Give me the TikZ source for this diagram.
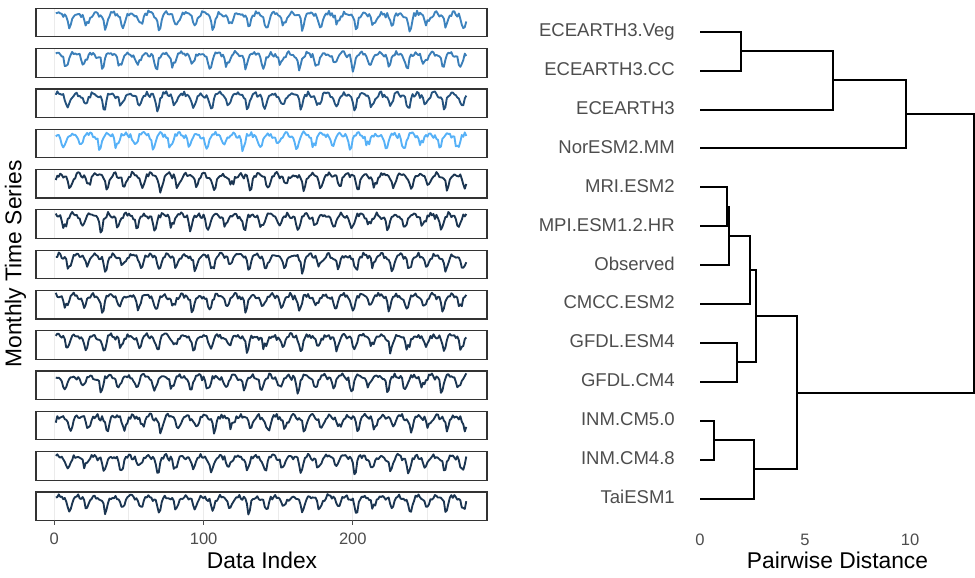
\documentclass[tikz,border=0pt]{standalone}
\usepackage{fontspec}
\setmainfont{Liberation Sans}
\usepackage{tikz}
\usetikzlibrary{positioning}
\definecolor{axisgray}{RGB}{77, 77, 77}
\definecolor{tsA}{RGB}{61, 131, 190}
\definecolor{tsB}{RGB}{58, 126, 184}
\definecolor{tsC}{RGB}{36, 82, 126}
\definecolor{tsD}{RGB}{86, 177, 247}
\definecolor{tsE}{RGB}{27, 53, 81}
\tikzstyle{panel} = [draw=black!80, line width=0.9pt]
\tikzstyle{vgrid} = [draw=black!8, line width=0.8pt]
\tikzstyle{series} = [line width=1.4pt, line join=round]
\tikzstyle{branch} = [draw, line width=1.5pt]
\tikzstyle{tickmark} = [draw=axisgray, line width=0.8pt]
\tikzstyle{leaf} = [inner sep=0pt, text=axisgray, font=\fontsize{13.9}{16}\selectfont, text height=1.4ex, text depth=0pt]
\tikzstyle{ticklab} = [inner sep=0pt, text=axisgray, font=\fontsize{12.4}{14}\selectfont, text height=1.4ex, text depth=0pt]
\tikzstyle{axtitle} = [inner sep=0pt, font=\fontsize{17.1}{20}\selectfont, text height=1.4ex, text depth=0pt]

% one panel: #1 top, #2 colour, #3 seed, #4 phase
\newcommand{\tspanel}[4]{%
  \foreach \g in {0,50,...,250}
    \draw[vgrid] ({54.3+1.4927*\g},#1) -- ({54.3+1.4927*\g},#1+28.5);
  \pgfmathsetseed{#3}
  \draw[series, #2] plot[domain=1:276, samples=276]
    ({54.3+1.4927*\x}, {#1+3.5+10*(0.3+(1.3+0.4*sin(131*floor((\x+#4)/12)+#3))*(max(0,cos(30*(\x+#4))))^2+0.3*(sin(30*(\x+#4)+20))^2-0.45*rnd)});
  \draw[panel] (36,#1) rectangle (487,#1+28.5);
}

\begin{document}
\begin{tikzpicture}[x=0.75pt, y=-0.75pt]
\useasboundingbox (0,0) rectangle (975,578);

% time series panels =============================
\tspanel{8.3}{tsA}{11}{2}
\tspanel{48.6}{tsB}{23}{4}
\tspanel{88.9}{tsC}{37}{3}
\tspanel{129.2}{tsD}{41}{6}
\tspanel{169.5}{tsE}{53}{1}
\tspanel{209.8}{tsE}{67}{5}
\tspanel{250.1}{tsE}{71}{2}
\tspanel{290.4}{tsE}{83}{4}
\tspanel{330.7}{tsE}{97}{3}
\tspanel{371.0}{tsE}{59}{5}
\tspanel{411.3}{tsE}{17}{1}
\tspanel{451.6}{tsE}{29}{3}
\tspanel{491.9}{tsE}{43}{2}

% x axis of panels
\draw[tickmark] (54.3,520.4) -- (54.3,525);
\draw[tickmark] (203.6,520.4) -- (203.6,525);
\draw[tickmark] (352.8,520.4) -- (352.8,525);
\node[ticklab] (t0) at (54.3,540) {0};
\node[ticklab] (t100) at (203.6,540) {100};
\node[ticklab] (t200) at (352.8,540) {200};
\node[axtitle] (xlab) at (262,564) {Data Index};
\node[axtitle, rotate=90] (ylab) at (16.5,264) {Monthly Time Series};

% dendrogram =============================

% leaf tips
\coordinate (tVeg) at (700,31.7);
\coordinate (tCC) at (700,70.6);
\coordinate (tE3) at (700,109.5);
\coordinate (tNor) at (700,148.4);
\coordinate (tMRI) at (700,187.3);
\coordinate (tMPI) at (700,226.2);
\coordinate (tObs) at (700,265.1);
\coordinate (tCMCC) at (700,304.0);
\coordinate (tGE) at (700,342.9);
\coordinate (tGC) at (700,381.8);
\coordinate (tINM5) at (700,420.7);
\coordinate (tINM48) at (700,459.6);
\coordinate (tTai) at (700,498.5);

% leaf labels
\node[leaf, left=18.75pt of tVeg] (lVeg) {ECEARTH3.Veg};
\node[leaf, left=18.75pt of tCC] (lCC) {ECEARTH3.CC};
\node[leaf, left=18.75pt of tE3] (lE3) {ECEARTH3};
\node[leaf, left=18.75pt of tNor] (lNor) {NorESM2.MM};
\node[leaf, left=18.75pt of tMRI] (lMRI) {MRI.ESM2};
\node[leaf, left=18.75pt of tMPI] (lMPI) {MPI.ESM1.2.HR};
\node[leaf, left=18.75pt of tObs] (lObs) {Observed};
\node[leaf, left=18.75pt of tCMCC] (lCMCC) {CMCC.ESM2};
\node[leaf, left=18.75pt of tGE] (lGE) {GFDL.ESM4};
\node[leaf, left=18.75pt of tGC] (lGC) {GFDL.CM4};
\node[leaf, left=18.75pt of tINM5] (lINM5) {INM.CM5.0};
\node[leaf, left=18.75pt of tINM48] (lINM48) {INM.CM4.8};
\node[leaf, left=18.75pt of tTai] (lTai) {TaiESM1};

% merges
\coordinate (mA) at (741,51.15);
\coordinate (mB) at (832.7,80.3);
\coordinate (mC) at (905.7,114.4);
\coordinate (mD) at (726.7,206.75);
\coordinate (mE) at (728.7,235.9);
\coordinate (mF) at (750,269.95);
\coordinate (mG) at (737,362.35);
\coordinate (mH) at (756,316.15);
\coordinate (mI) at (714.3,440.15);
\coordinate (mJ) at (754.3,469.3);
\coordinate (mK) at (797,392.7);
\coordinate (mL) at (974.3,253.55);

%edges
\path[branch] (tVeg) -| (mA) |- (tCC);
\path[branch] (mA) -| (mB) |- (tE3);
\path[branch] (mB) -| (mC) |- (tNor);
\path[branch] (tMRI) -| (mD) |- (tMPI);
\path[branch] (mD) -| (mE) |- (tObs);
\path[branch] (mE) -| (mF) |- (tCMCC);
\path[branch] (tGE) -| (mG) |- (tGC);
\path[branch] (mF) -| (mH) |- (mG);
\path[branch] (tINM5) -| (mI) |- (tINM48);
\path[branch] (mI) -| (mJ) |- (tTai);
\path[branch] (mH) -| (mK) |- (mJ);
\path[branch] (mC) -| (mL) |- (mK);

% distance axis
\node[ticklab] (d0) at (700,541) {0};
\node[ticklab] (d5) at (805,541) {5};
\node[ticklab] (d10) at (910,541) {10};
\node[axtitle] (dlab) at (837.5,564) {Pairwise Distance};

\end{tikzpicture}
\end{document}
